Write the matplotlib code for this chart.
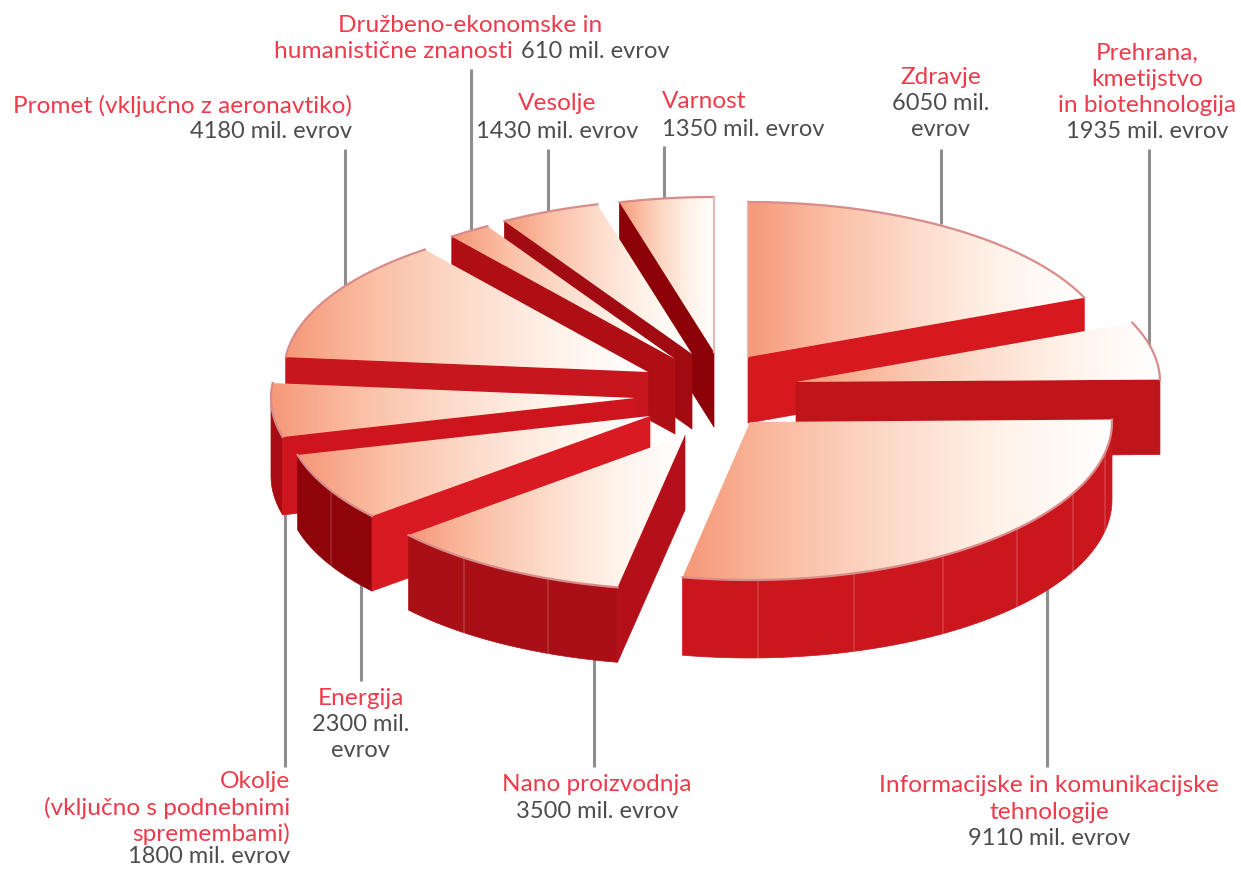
import numpy as np
import matplotlib
matplotlib.use("Agg")
import matplotlib.pyplot as plt
from matplotlib.colors import LinearSegmentedColormap
from matplotlib.patches import Polygon

# --- data ---
sectors = ["Zdravje", "Prehrana", "IKT", "Nano", "Energija", "Okolje",
           "Promet", "Druzbeno", "Vesolje", "Varnost"]
values = [6050, 1935, 9110, 3500, 2300, 1800, 4180, 610, 1430, 1350]

# --- layout and style, per sector, in figure pixels ---
apex_x = [748, 796, 750, 685, 650, 635, 648, 675, 692, 714]
apex_y = [358, 383, 423, 436, 417, 399, 373, 360, 355, 353]
radius_x = [364, 364, 362, 362, 364, 364, 364, 364, 364, 364]
radius_y = [155, 155, 158, 155, 155, 155, 155, 155, 155, 155]
depth = [66, 75, 78, 75, 75, 78, 75, 75, 75, 75]
face_colors = ["#D6181F", "#BE141A", "#C9151D", "#B5101A", "#DA1A22",
               "#CE141C", "#C8161E", "#AE0E14", "#A00A10", "#8C0008"]
outer_colors = ["#C9151D", "#BE141A", "#CC161E", "#A81016", "#8E0409",
                "#A80C12", "#A80C12", "#A80C12", "#A80C12", "#A80C12"]
draw_order = [9, 8, 7, 6, 5, 4, 3, 0, 1, 2]
top_cmap = LinearSegmentedColormap.from_list(
    "top", ["#F59878", "#FBC0A6", "#FDDCCB", "#FFF3EA", "#FFFFFF"])

leader_x = [941, 1149, 1047, 594, 361, 285, 345, 471, 548, 664]
leader_top = [150, 150, 590, 655, 585, 510, 150, 70, 150, 147]
leader_bottom = [225, 360, 768, 768, 682, 768, 290, 232, 215, 200]

RED = "#EE3B4B"
GREY = "#4D4D4D"
FONT = "Lato"
RED_SIZE = 17.6
GREY_SIZE = 17.0

# (text, x, y, colour, ha)
labels = [
    ("Zdravje", 941, 77, RED, "center"),
    (f"{values[0]} mil.", 941, 103, GREY, "center"),
    ("evrov", 941, 129, GREY, "center"),
    ("Prehrana,", 1147, 53, RED, "center"),
    ("kmetijstvo", 1147, 79, RED, "center"),
    ("in biotehnologija", 1147, 105, RED, "center"),
    (f"{values[1]} mil. evrov", 1147, 132, GREY, "center"),
    ("Informacijske in komunikacijske", 1049, 786, RED, "center"),
    ("tehnologije", 1049, 813, RED, "center"),
    (f"{values[2]} mil. evrov", 1049, 839, GREY, "center"),
    ("Nano proizvodnja", 597, 785, RED, "center"),
    (f"{values[3]} mil. evrov", 597, 812, GREY, "center"),
    ("Energija", 361, 699, RED, "center"),
    (f"{values[4]} mil.", 361, 725, GREY, "center"),
    ("evrov", 361, 751, GREY, "center"),
    ("Okolje", 290, 782, RED, "right"),
    ("(vključno s podnebnimi", 290, 808, RED, "right"),
    ("spremembami)", 290, 834, RED, "right"),
    (f"{values[5]} mil. evrov", 290, 857, GREY, "right"),
    ("Promet (vključno z aeronavtiko)", 352, 106, RED, "right"),
    (f"{values[6]} mil. evrov", 352, 132, GREY, "right"),
    ("Družbeno-ekonomske in", 470, 25, RED, "center"),
    ("humanistične znanosti", 513, 52, RED, "right"),
    (f"{values[7]} mil. evrov", 521, 52, GREY, "left"),
    ("Vesolje", 557, 104, RED, "center"),
    (f"{values[8]} mil. evrov", 557, 131, GREY, "center"),
    ("Varnost", 662, 102, RED, "left"),
    (f"{values[9]} mil. evrov", 662, 130, GREY, "left"),
]

# --- figure ---
fig = plt.figure(figsize=(12.41, 8.70), dpi=100, facecolor="white")
ax = fig.add_axes([0, 0, 1, 1])
ax.set_xlim(0, 1241)
ax.set_ylim(870, 0)
ax.axis("off")

for x, y0, y1 in zip(leader_x, leader_top, leader_bottom):
    ax.plot([x, x], [y0, y1], color="#8E8E8E", lw=2.2, zorder=1,
            solid_capstyle="butt")

angles = np.cumsum([0] + values) / np.sum(values) * 2 * np.pi
gradient = np.linspace(0, 1, 256).reshape(1, -1)


def arc(i, a0, a1, n=60):
    t = np.linspace(a0, a1, n)
    return (apex_x[i] + radius_x[i] * np.sin(t),
            apex_y[i] - radius_y[i] * np.cos(t))


z = 2
for i in draw_order:
    a0, a1 = angles[i], angles[i + 1]
    ax_, ay_ = apex_x[i], apex_y[i]
    d = depth[i]
    xs, ys = arc(i, a0, a1)
    mid_x, mid_y = arc(i, (a0 + a1) / 2, (a0 + a1) / 2, 1)

    # outer rim, only where it faces the viewer
    lo, hi = max(a0, np.pi / 2), min(a1, 3 * np.pi / 2)
    if lo < hi:
        rx, ry = arc(i, lo, hi)
        pts = np.r_[np.c_[rx, ry], np.c_[rx[::-1], ry[::-1] + d]]
        ax.add_patch(Polygon(pts, closed=True, fc=outer_colors[i],
                             ec=outer_colors[i], lw=0.5, zorder=z))
        z += 1
        # faint facet seams on the rim
        for t in np.arange(lo + 0.2, hi - 0.08, 0.27):
            sx, sy = arc(i, t, t, 1)
            ax.plot([sx[0], sx[0]], [sy[0], sy[0] + d], color="white",
                    alpha=0.13, lw=1.5, zorder=z)
        z += 1

    # straight cut faces, only those that face the viewer
    for ex, ey in ((xs[0], ys[0]), (xs[-1], ys[-1])):
        vx, vy = ex - ax_, ey - ay_
        nx, ny = -vy, vx
        if nx * (mid_x[0] - ax_) + ny * (mid_y[0] - ay_) > 0:
            ny = -ny
        if ny > 0:
            ax.add_patch(Polygon([(ax_, ay_), (ex, ey), (ex, ey + d), (ax_, ay_ + d)],
                                 closed=True, fc=face_colors[i],
                                 ec=face_colors[i], lw=0.5, zorder=z))
            z += 1

    # top surface with a left to right fade
    pts = np.r_[[(ax_, ay_)], np.c_[xs, ys]]
    top = Polygon(pts, closed=True, fc="none", ec="none", zorder=z)
    ax.add_patch(top)
    im = ax.imshow(gradient, cmap=top_cmap, aspect="auto", zorder=z,
                   extent=[pts[:, 0].min(), pts[:, 0].max(),
                           pts[:, 1].max(), pts[:, 1].min()])
    im.set_clip_path(top)
    z += 1
    ax.plot(xs, ys, color="#D98C8C", lw=1.6, zorder=z)
    if i == 0:
        ax.plot([ax_, xs[0]], [ay_, ys[0]], color="#E5A8A0", lw=1.2, zorder=z)
    if i == 9:
        ax.plot([ax_, xs[-1]], [ay_, ys[-1]], color="#E5B8B8", lw=1.6, zorder=z)
    z += 1

ax.set_xlim(0, 1241)
ax.set_ylim(870, 0)

for text, x, y, color, ha in labels:
    ax.text(x, y, text, color=color, ha=ha, va="center",
            fontsize=RED_SIZE if color == RED else GREY_SIZE,
            family=FONT, zorder=z + 1)

fig.savefig("out.png", dpi=100, facecolor="white")
